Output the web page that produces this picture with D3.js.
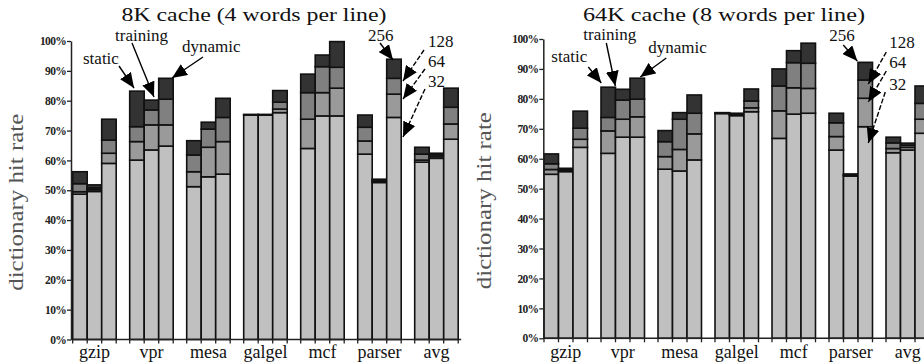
<!DOCTYPE html>
<html>
<head>
<meta charset="utf-8">
<script src="https://cdn.jsdelivr.net/npm/d3@7"></script>
<style>
  body { margin: 0; background: #fff; }
  svg { display: block; font-family: "Liberation Serif", "Times New Roman", serif; }
</style>
</head>
<body>
<svg id="chart" width="924" height="364"></svg>
<script>
const benchmarks = ['gzip', 'vpr', 'mesa', 'galgel', 'mcf', 'parser', 'avg']
const policies = ['static', 'training', 'dynamic']
const dictSizes = ['32', '64', '128', '256']
const sizeColors = ['#c0c0c0', '#9a9a9a', '#808080', '#333333']
const yTicks = [0, 10, 20, 30, 40, 50, 60, 70, 80, 90, 100]

// cumulative hit rate (%) for each dictionary size, order: benchmark x (static, training, dynamic)
const hit8K_32 = [48.7, 49.6, 59, 60.1, 63.5, 64.8, 51.2, 54.5, 55.4, 75.2, 75.2, 76, 64, 74.9, 74.9, 62.1, 52.6, 74.4, 59.4, 60.7, 67.1]
const hit8K_64 = [49.5, 50.2, 62.4, 66.3, 71.9, 71.9, 56.2, 64.4, 66.3, 75.3, 75.3, 77.2, 73.8, 82.7, 84.2, 66.5, 53.0, 82.2, 60.1, 61.3, 72.2]
const hit8K_128 = [52.2, 50.8, 66.8, 71.3, 76.9, 80.5, 61.8, 70.5, 74.4, 75.3, 75.3, 79.5, 82.7, 91.4, 91.2, 71.1, 53.3, 87.5, 62.1, 61.9, 77.8]
const hit8K_256 = [56.2, 51.8, 73.8, 83.2, 80.2, 87.5, 66.6, 72.8, 80.8, 75.4, 75.4, 83.4, 88.9, 95.3, 99.8, 75.2, 53.7, 93.9, 64.4, 62.4, 84.2]

const hit64K_32 = [54.8, 55.7, 63.8, 61.8, 67.2, 67.2, 56.5, 55.9, 59.6, 75.1, 74.4, 75.7, 66.8, 74.9, 75.2, 62.9, 54.2, 70.7, 62, 62.9, 68.5]
const hit64K_64 = [56.4, 56.1, 66.5, 69.3, 73.2, 74, 60.7, 63.1, 68.3, 75.2, 74.7, 77.0, 76, 83.7, 83.5, 67.4, 54.5, 80.2, 63.4, 63.8, 73.2]
const hit64K_128 = [58.3, 56.5, 70.2, 73.8, 79.6, 79.9, 65.7, 73.2, 75.2, 75.3, 75.0, 79.3, 84.3, 92.1, 91.9, 72, 54.7, 86.3, 65.3, 64.5, 78.5]
const hit64K_256 = [61.6, 56.8, 75.9, 83.9, 83.2, 86.9, 69.4, 75.4, 81.3, 75.4, 75.2, 83.3, 90, 96.1, 98.6, 75.2, 54.9, 92.2, 67.2, 65.2, 84.3]

const panels = [
    {
        title: '8K cache (4 words per line)', titleX: 254, titleLen: 265,
        axisX: 71, xRange: [72.7, 458.2], yRange: [339.5, 41], labelX: 23,
        series: [hit8K_32, hit8K_64, hit8K_128, hit8K_256],
        notes: [
            { text: 'static', tx: 12, ty: 64, from: [48, 66], to: [63, 88] },
            { text: 'training', tx: 44, ty: 40.5, from: [61, 43], to: [83, 97] },
            { text: 'dynamic', tx: 111, ty: 52, from: [132, 57], to: [101, 78] },
            { text: '256', tx: 297, ty: 40.5, from: [309, 43], to: [322, 60] },
            { text: '128', tx: 357, ty: 47, from: [353, 50], to: [332, 81], dash: true },
            { text: '64', tx: 357, ty: 67, from: [354, 69], to: [332, 99], dash: true },
            { text: '32', tx: 357, ty: 87, from: [354, 89], to: [332, 137], dash: true }
        ]
    },
    {
        title: '64K cache (8 words per line)', titleX: 724, titleLen: 282,
        axisX: 543.3, xRange: [544, 929.5], yRange: [338.3, 39], labelX: 491,
        series: [hit64K_32, hit64K_64, hit64K_128, hit64K_256],
        notes: [
            { text: 'static', tx: 8, ty: 62, from: [45, 67], to: [58, 83] },
            { text: 'training', tx: 40, ty: 40, from: [63, 43], to: [72, 86] },
            { text: 'dynamic', tx: 105, ty: 53, from: [123, 58], to: [97, 77] },
            { text: '256', tx: 286, ty: 41, from: [300, 45], to: [314, 61] },
            { text: '128', tx: 346, ty: 48, from: [343, 52], to: [325, 84], dash: true },
            { text: '64', tx: 346, ty: 68, from: [343, 71], to: [325, 102], dash: true },
            { text: '32', tx: 346, ty: 90, from: [342, 92], to: [325, 143], dash: true }
        ]
    }
]

const svg = d3.select('#chart')

svg.append('defs').append('marker')
    .attr('id', 'head')
    .attr('markerUnits', 'userSpaceOnUse')
    .attr('viewBox', '0 0 15 13')
    .attr('refX', 15).attr('refY', 6.5)
    .attr('markerWidth', 15).attr('markerHeight', 13)
    .attr('orient', 'auto')
    .append('path')
    .attr('d', 'M0,0 L15,6.5 L0,13 Z')
    .attr('fill', '#000')

panels.forEach(p => {
    const g = svg.append('g')

    const x = d3.scaleBand().domain(benchmarks).range(p.xRange).paddingInner(0.237).paddingOuter(0)
    const xi = d3.scaleBand().domain(policies).range([0, x.bandwidth()])
    const y = d3.scaleLinear().domain([0, 100]).range(p.yRange)

    // bars: one rect per dictionary size, stacked on the previous size
    const rows = []
    benchmarks.forEach((b, bi) => {
        policies.forEach((pol, pi) => {
            const idx = bi * 3 + pi
            dictSizes.forEach((s, si) => {
                const lo = si === 0 ? 0 : p.series[si - 1][idx]
                rows.push({ b, pol, si, lo, hi: p.series[si][idx] })
            })
        })
    })

    g.selectAll('rect.seg')
        .data(rows)
        .enter()
        .append('rect')
        .attr('class', 'seg')
        .attr('x', d => x(d.b) + xi(d.pol))
        .attr('width', xi.bandwidth())
        .attr('y', d => y(d.hi))
        .attr('height', d => Math.max(0, y(d.lo) - y(d.hi)))
        .attr('fill', d => sizeColors[d.si])
        .attr('stroke', '#111')
        .attr('stroke-width', 1.6)

    // y axis
    const yAxis = g.append('g')
        .attr('transform', `translate(${p.axisX},0)`)
        .call(d3.axisLeft(y).tickValues(yTicks).tickSize(4).tickSizeOuter(0).tickPadding(1).tickFormat(d => d + '%'))
    yAxis.select('.domain').attr('stroke', '#222').attr('stroke-width', 1.5)
    yAxis.selectAll('.tick line').attr('stroke', '#222').attr('stroke-width', 1.3)
    yAxis.selectAll('.tick text')
        .attr('font-family', '"Liberation Serif", serif')
        .attr('font-size', 11.5)
        .attr('font-weight', 'bold')
        .attr('letter-spacing', -0.7)
        .attr('fill', '#222')

    // x axis line with a tick at every bar edge
    const y0 = y(0)
    g.append('line')
        .attr('x1', p.axisX).attr('x2', p.xRange[1] + 3)
        .attr('y1', y0).attr('y2', y0)
        .attr('stroke', '#222').attr('stroke-width', 1.5)
    const edges = []
    benchmarks.forEach(b => {
        policies.forEach(pol => edges.push(x(b) + xi(pol)))
        edges.push(x(b) + x.bandwidth())
    })
    g.selectAll('line.xt')
        .data(edges)
        .enter()
        .append('line')
        .attr('class', 'xt')
        .attr('x1', d => d).attr('x2', d => d)
        .attr('y1', y0).attr('y2', y0 + 4)
        .attr('stroke', '#222').attr('stroke-width', 1.3)

    g.selectAll('text.xl')
        .data(benchmarks)
        .enter()
        .append('text')
        .attr('class', 'xl')
        .attr('x', d => x(d) + x.bandwidth() / 2)
        .attr('y', 358)
        .attr('text-anchor', 'middle')
        .attr('font-size', 18)
        .attr('fill', '#111')
        .text(d => d)

    // titles
    g.append('text')
        .attr('x', p.titleX).attr('y', 20.5)
        .attr('text-anchor', 'middle')
        .attr('font-size', 19)
        .attr('textLength', p.titleLen)
        .attr('lengthAdjust', 'spacingAndGlyphs')
        .attr('fill', '#111')
        .text(p.title)

    g.append('text')
        .attr('transform', `translate(${p.labelX},${(y(0) + y(100)) / 2 + 12}) rotate(-90)`)
        .attr('text-anchor', 'middle')
        .attr('font-size', 20)
        .attr('textLength', 177)
        .attr('lengthAdjust', 'spacingAndGlyphs')
        .attr('fill', '#555')
        .text('dictionary hit rate')

    // annotations
    p.notes.forEach(n => {
        g.append('line')
            .attr('x1', p.axisX + n.from[0]).attr('y1', n.from[1])
            .attr('x2', p.axisX + n.to[0]).attr('y2', n.to[1])
            .attr('stroke', '#000').attr('stroke-width', 1.4)
            .attr('stroke-dasharray', n.dash ? '5,2' : null)
            .attr('marker-end', 'url(#head)')
        g.append('text')
            .attr('x', p.axisX + n.tx).attr('y', n.ty)
            .attr('font-size', 17)
            .attr('fill', '#111')
            .text(n.text)
    })
})
</script>
</body>
</html>
